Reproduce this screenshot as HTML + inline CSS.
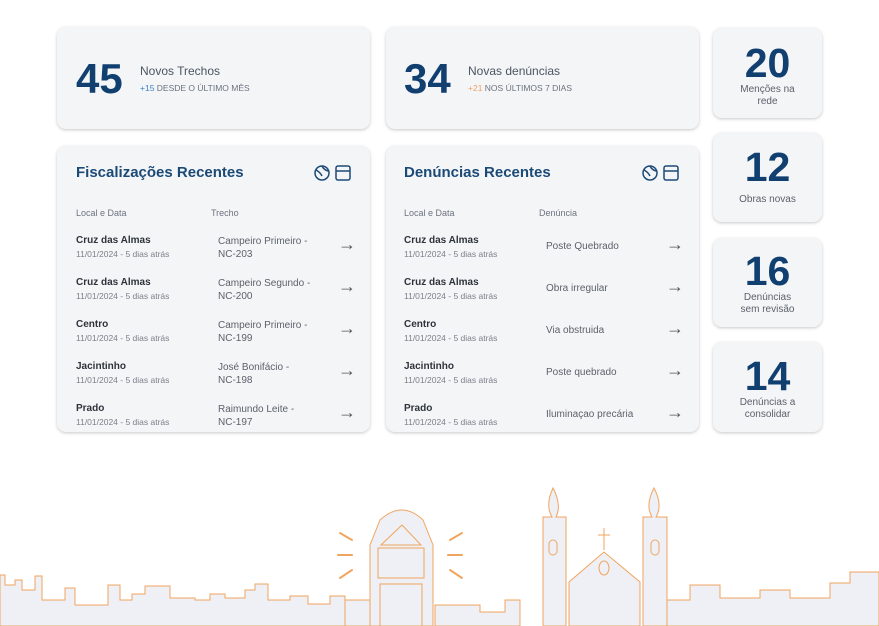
<!DOCTYPE html>
<html><head><meta charset="utf-8"><style>
body{margin:0;width:879px;height:626px;background:#fff;font-family:"Liberation Sans",sans-serif;position:relative;overflow:hidden}
.card{position:absolute;background:#f4f5f7;border-radius:9px;box-shadow:0 1px 3px rgba(0,0,0,.22)}
.big{font-weight:bold;color:#103f70;position:absolute}
.t{position:absolute;white-space:nowrap}
.title{font-size:15px;font-weight:bold;color:#1c4a77}
.hd{font-size:9px;color:#6d7380}
.nm{font-size:10px;font-weight:bold;color:#2e333b}
.dt{font-size:8.5px;color:#7b808a}
.tr{font-size:10px;color:#5b616b;line-height:13px}
.ar{font-size:18px;color:#555}
.sm{text-align:center;font-size:10px;color:#5b616b;line-height:12px}
</style></head><body>

<div class="card" style="left:57px;top:27px;width:313px;height:102px"></div>
<div class="big" style="left:76px;top:55px;font-size:42px">45</div>
<div class="t" style="left:140px;top:64px;font-size:12px;color:#4b5563">Novos Trechos</div>
<div class="t" style="left:140px;top:83px;font-size:8.5px;color:#6b7280"><span style="color:#3b82c4">+15</span> DESDE O ÚLTIMO MÊS</div>

<div class="card" style="left:386px;top:27px;width:313px;height:102px"></div>
<div class="big" style="left:404px;top:55px;font-size:42px">34</div>
<div class="t" style="left:468px;top:64px;font-size:12px;color:#4b5563">Novas denúncias</div>
<div class="t" style="left:468px;top:83px;font-size:8.5px;color:#6b7280"><span style="color:#f0a060">+21</span> NOS ÚLTIMOS 7 DIAS</div>

<div class="card" style="left:713px;top:28px;width:109px;height:90px"></div>
<div class="big" style="left:713px;width:109px;text-align:center;top:40px;font-size:41px">20</div>
<div class="t sm" style="left:713px;width:109px;top:84px">Menções na<br>rede</div>
<div class="card" style="left:713px;top:133px;width:109px;height:89px"></div>
<div class="big" style="left:713px;width:109px;text-align:center;top:144px;font-size:41px">12</div>
<div class="t sm" style="left:713px;width:109px;top:194px">Obras novas</div>
<div class="card" style="left:713px;top:238px;width:109px;height:89px"></div>
<div class="big" style="left:713px;width:109px;text-align:center;top:248px;font-size:41px">16</div>
<div class="t sm" style="left:713px;width:109px;top:292px">Denúncias<br>sem revisão</div>
<div class="card" style="left:713px;top:342px;width:109px;height:90px"></div>
<div class="big" style="left:713px;width:109px;text-align:center;top:353px;font-size:41px">14</div>
<div class="t sm" style="left:713px;width:109px;top:397px">Denúncias a<br>consolidar</div>

<div class="card" style="left:57px;top:146px;width:313px;height:286px"></div>
<div class="card" style="left:386px;top:146px;width:313px;height:286px"></div>

<div id="lists"></div>

<svg style="position:absolute;left:0;top:0" width="879" height="626">
<g fill="none" stroke="#1c4a77" stroke-width="1.5">
<circle cx="322" cy="173" r="7"/><path d="M316 170 Q320 172 322 176 M322 166 Q324 170 328 171"/><rect x="336" y="166" width="14" height="14" rx="2"/><line x1="336" y1="171" x2="350" y2="171"/>
<circle cx="650" cy="173" r="7"/><path d="M644 170 Q648 172 650 176 M650 166 Q652 170 656 171"/><rect x="664" y="166" width="14" height="14" rx="2"/><line x1="664" y1="171" x2="678" y2="171"/>
</g>
<g fill="#eef0f5" stroke="#f0a560" stroke-width="1">
<path d="M0 626 V575 L5 575 V585 L15 585 V580 L22 580 V590 L35 590 V576 L42 576 V600 L65 600 V588 L75 588 V605 L108 605 V585 L120 585 V600 L132 600 V594 L145 594 V586 L170 586 V598 L195 598 V600 L210 600 V594 L225 594 V598 L245 598 V590 L255 590 V584 L268 584 V600 L290 600 V596 L308 596 V604 L330 604 V596 L345 596 V626 Z"/>
<path d="M345 626 V600 L370 600 V626Z"/>
<path d="M435 626 V605 L480 605 V612 L505 612 V600 L520 600 V626Z"/>
<path d="M370 626 V545 L380 520 Q402 500 423 520 L433 545 V626 Z"/>
<path d="M381 545 L402 525 L421 545 Z"/>
<rect x="378" y="548" width="46" height="30"/>
<rect x="380" y="584" width="42" height="42"/>
<path d="M543 626 V517 L552 517 Q545 505 553 488 Q562 505 556 517 L566 517 V626 Z"/>
<path d="M643 626 V517 L652 517 Q645 505 654 488 Q663 505 656 517 L667 517 V626 Z"/>
<rect x="549" y="540" width="8" height="15" rx="4"/><rect x="651" y="540" width="8" height="15" rx="4"/>
<path d="M569 626 V582 L604 552 L640 582 V626 Z"/>
<line x1="604" y1="528" x2="604" y2="550"/><line x1="598" y1="535" x2="610" y2="535"/>
<ellipse cx="604" cy="568" rx="5" ry="7"/>
<path d="M667 626 V600 L690 600 V585 L720 585 V598 L760 598 V590 L790 590 V598 L830 598 V583 L850 583 V572 L879 572 V626 Z"/>
</g>
<g stroke="#f0a560" stroke-width="2" stroke-linecap="round">
<line x1="340" y1="533" x2="352" y2="540"/><line x1="338" y1="555" x2="352" y2="555"/><line x1="340" y1="578" x2="352" y2="570"/>
<line x1="450" y1="540" x2="462" y2="533"/><line x1="448" y1="555" x2="462" y2="555"/><line x1="450" y1="570" x2="462" y2="578"/>
</g>
</svg>

<script>
var names=["Cruz das Almas","Cruz das Almas","Centro","Jacintinho","Prado"];
var tr=[["Campeiro Primeiro -","NC-203"],["Campeiro Segundo -","NC-200"],["Campeiro Primeiro -","NC-199"],["José Bonifácio -","NC-198"],["Raimundo Leite -","NC-197"]];
var dn=["Poste Quebrado","Obra irregular","Via obstruida","Poste quebrado","Iluminaçao precária"];
var h="";
function panel(x,title,col,vals,two){
h+='<div class="t title" style="left:'+(x+19)+'px;top:164px">'+title+'</div>';
h+='<div class="t hd" style="left:'+(x+19)+'px;top:208px">Local e Data</div>';
h+='<div class="t hd" style="left:'+(x+154)+'px;top:208px">'+col+'</div>';
for(var i=0;i<5;i++){var y=235+i*42;
h+='<div class="t nm" style="left:'+(x+19)+'px;top:'+y+'px">'+names[i]+'</div>';
h+='<div class="t dt" style="left:'+(x+19)+'px;top:'+(y+14)+'px">11/01/2024 - 5 dias atrás</div>';
if(two)h+='<div class="t tr" style="left:'+(x+161)+'px;top:'+y+'px">'+vals[i][0]+'<br>'+vals[i][1]+'</div>';
else h+='<div class="t tr" style="left:'+(x+161)+'px;top:'+(y+5)+'px">'+vals[i]+'</div>';
h+='<div class="t ar" style="left:'+(x+281)+'px;top:'+(y-1)+'px">→</div>';}
}
panel(57,"Fiscalizações Recentes","Trecho",tr,true);
panel(385,"Denúncias Recentes","Denúncia",dn,false);
document.getElementById("lists").innerHTML=h;
</script>
</body></html>
